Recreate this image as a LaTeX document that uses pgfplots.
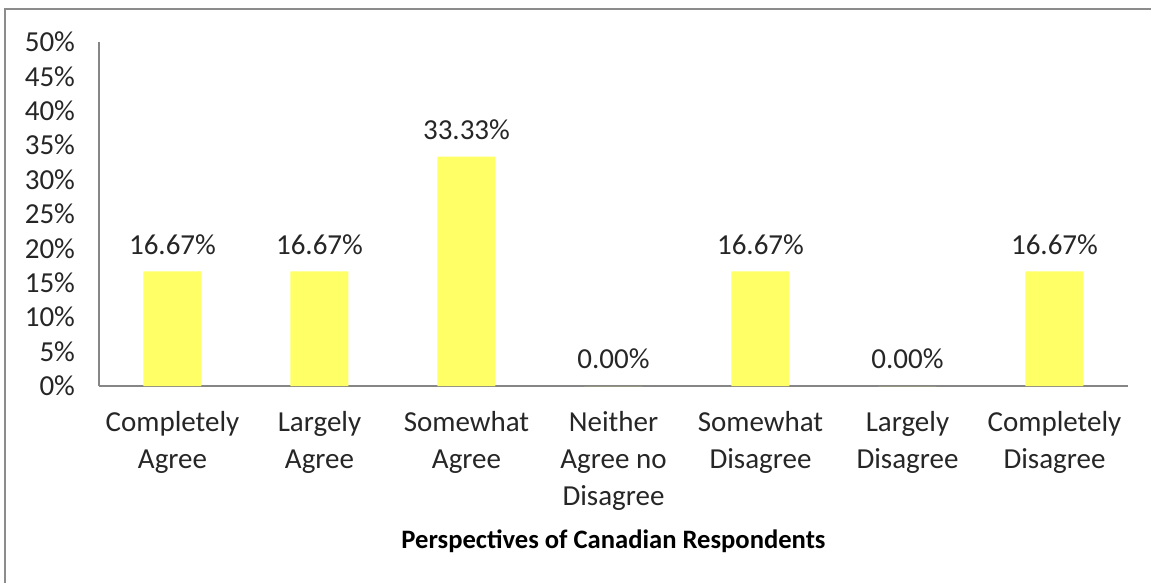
\documentclass[border=0pt]{standalone}
\usepackage{pgfplots}
\pgfplotsset{compat=1.18}
\usepackage{fontspec}
\setmainfont{Carlito}
\definecolor{baryellow}{HTML}{FFFF66}
\definecolor{axisgray}{HTML}{868686}
\definecolor{framegray}{HTML}{8C8C8C}
\definecolor{txt}{HTML}{262626}
\begin{document}
\begin{tikzpicture}
\useasboundingbox (-49.5pt,-98.5pt) rectangle (526pt,193pt);
\draw[framegray, line width=1.3pt] (-47pt,-98.5pt) -- (-47pt,188.5pt) -- (526pt,188.5pt);
\begin{axis}[
  at={(0pt,0pt)}, anchor=south west,
  scale only axis,
  width=514.5pt, height=172pt,
  xmin=-0.5, xmax=6.5,
  ymin=0, ymax=50,
  ytick={0,5,...,50},
  axis x line*=bottom,
  axis y line*=left,
  axis line style={axisgray, line width=0.75pt, -},
  major tick length=0pt,
  /pgf/number format/assume math mode=true,
  tick label style={font=\fontsize{14.5}{18.5}\selectfont, text=txt},
  yticklabel={\pgfmathprintnumber{\tick}\%},
  yticklabel style={xshift=-8.5pt},
  xtick=data,
  xticklabels={{Completely\\Agree},{Largely\\Agree},{Somewhat\\Agree},{Neither\\Agree no\\Disagree},{Somewhat\\Disagree},{Largely\\Disagree},{Completely\\Disagree}},
  xticklabel style={align=center, yshift=-9pt},
  xlabel={\textbf{Perspectives of Canadian Respondents}},
  xlabel style={at={(axis description cs:0.5,0)}, anchor=base, yshift=-81pt, font=\fontsize{13.3}{15}\selectfont, text=black},
  ybar, bar width=29pt,
  nodes near coords={\pgfmathprintnumber[fixed,fixed zerofill,precision=2]{\pgfplotspointmeta}\%},
  nodes near coords style={font=\fontsize{14.5}{16}\selectfont, text=txt, yshift=5pt},
  clip=false,
]
\addplot[fill=baryellow, draw=none] coordinates {
  (0,16.67) (1,16.67) (2,33.33) (3,0) (4,16.67) (5,0) (6,16.67)
};
\end{axis}
\end{tikzpicture}
\end{document}
